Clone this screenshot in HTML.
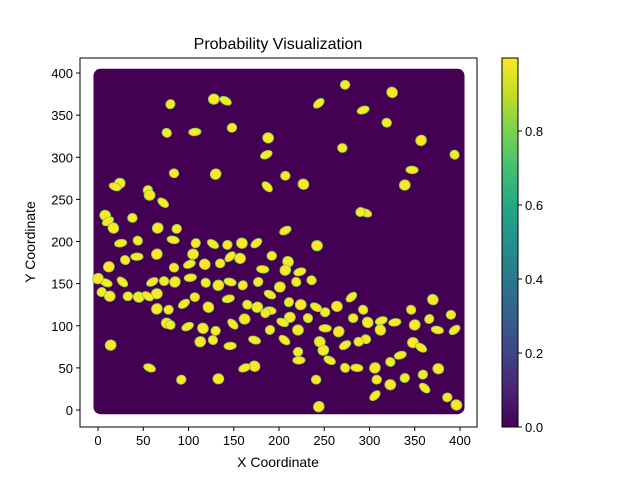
<!DOCTYPE html>
<html><head><meta charset="utf-8"><style>
body{margin:0;background:#fff}
svg text{font-family:"Liberation Sans","DejaVu Sans",sans-serif;fill:#000}
</style></head><body>
<svg id="chart" width="640" height="480" viewBox="0 0 640 480" xmlns="http://www.w3.org/2000/svg">
<defs>
<linearGradient id="viridis" x1="0" y1="1" x2="0" y2="0">
<stop offset="0" stop-color="#440154"/><stop offset="0.1" stop-color="#482475"/><stop offset="0.2" stop-color="#414487"/><stop offset="0.3" stop-color="#355f8d"/><stop offset="0.4" stop-color="#2a788e"/><stop offset="0.5" stop-color="#21918c"/><stop offset="0.6" stop-color="#22a884"/><stop offset="0.7" stop-color="#44bf70"/><stop offset="0.8" stop-color="#7ad151"/><stop offset="0.9" stop-color="#bddf26"/><stop offset="1" stop-color="#fde725"/>
</linearGradient>
</defs>
<text x="278" y="49" font-size="16" text-anchor="middle">Probability Visualization</text>
<g id="plot"></g>
<rect x="80" y="58" width="397" height="369" fill="none" stroke="#000" stroke-width="1"/>
<g id="axes"></g>
<text x="278" y="467" font-size="14" text-anchor="middle">X Coordinate</text>
<text transform="translate(35,242) rotate(-90)" font-size="14" text-anchor="middle">Y Coordinate</text>
<rect x="502" y="58" width="16" height="369" fill="url(#viridis)" stroke="#000" stroke-width="1"/>
<g id="cbar"></g>
</svg>
<script>
const blobX=[80,128,141,148,188,244,273,325,293,319,357,347,394,339,296,290,242,187,207,227,186,84,130,107,76,24,19,55,57,72,87,8,11,38,17,25,44,66,83,108,105,127,143,159,175,192,210,223,236,207,182,219,201,190,177,157,146,135,118,101,84,65,43,30,12,9,4,13,27,33,45,60,73,85,102,119,133,146,160,65,55,78,76,95,107,122,144,165,176,190,211,224,241,251,264,280,282,298,313,296,266,251,232,212,204,185,162,149,130,116,99,80,65,146,127,113,173,190,221,206,221,245,273,288,312,328,346,350,375,366,348,357,359,376,394,390,370,334,323,306,286,273,249,256,339,323,306,308,173,162,241,244,222,293,14,57,92,133,361,386,396,207,270,0];
const blobY=[363,369,367,335,323,364,386,377,356,341,320,285,303,267,234,235,195,265,278,268,303,281,280,330,329,269,265,261,255,246,215,231,224,228,216,198,201,216,202,198,185,197,196,198,198,183,176,164,154,166,167,152,146,137,152,180,182,174,173,173,169,185,182,178,170,151,140,135,152,135,134,152,153,152,157,151,148,152,148,138,135,119,103,126,134,122,132,125,122,118,128,125,122,116,123,134,109,104,106,84,93,97,109,110,104,115,108,102,94,97,99,101,120,76,83,81,83,95,95,83,69,81,77,81,95,104,119,101,95,108,80,74,42,49,95,113,131,65,57,50,50,50,71,59,38,30,17,36,52,50,36,4,59,119,77,50,36,37,26,15,6,213,311,156];
const xTicks=[0,50,100,150,200,250,300,350,400];
const yTicks=[0,50,100,150,200,250,300,350,400];
const cbTicks=[0.0,0.2,0.4,0.6,0.8];
const cbLabels=["0.0","0.2","0.4","0.6","0.8"];

const NS="http://www.w3.org/2000/svg";
const sx=v=>98+v*0.905;
const sy=v=>410-v*0.8425;
const cy=v=>427-v*370;
function mk(tag,attrs,parent){const e=document.createElementNS(NS,tag);for(const k in attrs)e.setAttribute(k,attrs[k]);parent.appendChild(e);return e;}
const plot=document.getElementById('plot');
const bg=mk('rect',{x:sx(-5),y:sy(405),width:sx(405)-sx(-5),height:sy(-5)-sy(405),rx:7,fill:'#440154'},plot);


for(let i=0;i<blobX.length;i++){
  const rx=4.8+(i%3)*0.7, ry=3.8+((i+1)%3)*0.7;
  const e=mk('ellipse',{cx:sx(blobX[i]),cy:sy(blobY[i]),rx:rx,ry:ry,fill:'#fde725',stroke:'#7ad151','stroke-width':0.8,transform:'rotate('+((i*37)%90-45)+' '+sx(blobX[i])+' '+sy(blobY[i])+')'},plot);
  
  
}
const axes=document.getElementById('axes');
xTicks.forEach(v=>{
  const l=mk('line',{x1:sx(v),x2:sx(v),y1:427,y2:431,stroke:'#000'},axes);
  
  
  const t=mk('text',{x:sx(v),y:445,'font-size':13,'text-anchor':'middle'},axes);t.textContent=v;
  
  
});
yTicks.forEach(v=>{
  const l=mk('line',{x1:76,x2:80,y1:sy(v),y2:sy(v),stroke:'#000'},axes);
  
  
  const t=mk('text',{x:73,y:sy(v)+5,'font-size':13,'text-anchor':'end'},axes);t.textContent=v;
  
  
});
const cb=document.getElementById('cbar');
cbTicks.forEach((v,i)=>{
  const l=mk('line',{x1:518,x2:522,y1:cy(v),y2:cy(v),stroke:'#000'},cb);
  
  
  const t=mk('text',{x:525,y:cy(v)+5,'font-size':13},cb);t.textContent=cbLabels[i];
  
  
});
</script>
</body></html>
